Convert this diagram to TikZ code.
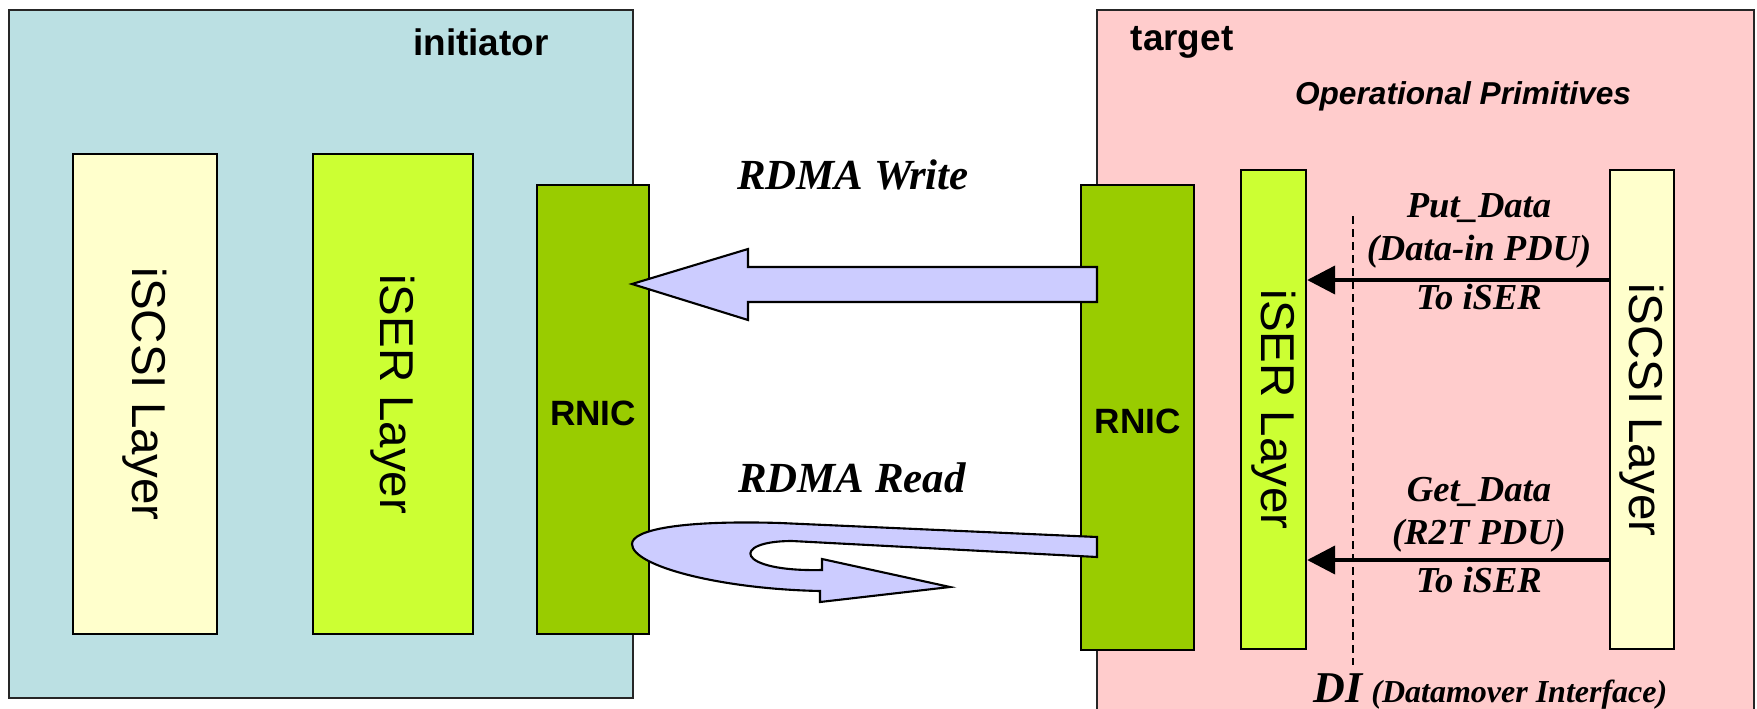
\documentclass[tikz,border=0pt]{standalone}
\usepackage{fontspec}
\setmainfont{Liberation Sans}
\newfontfamily\timesfont{Liberation Serif}
\usetikzlibrary{arrows.meta}
\definecolor{initbg}{RGB}{187,224,227}
\definecolor{targbg}{RGB}{255,204,204}
\definecolor{scsiclr}{RGB}{255,255,204}
\definecolor{iserclr}{RGB}{204,255,51}
\definecolor{rnicclr}{RGB}{153,204,0}
\definecolor{rdmaclr}{RGB}{204,204,255}
\tikzset{>=stealth}

\begin{document}
\begin{tikzpicture}[x=0.01cm, y=-0.01cm,
  side/.style={draw=black!85, line width=0.5pt, anchor=north west, inner sep=0pt},
  layer/.style={draw, line width=0.6pt, anchor=north west, inner sep=0pt},
  layertext/.style={rotate=-90, font=\fontsize{13.5}{16}\selectfont},
  rdma/.style={draw, fill=rdmaclr, line width=0.6pt, line join=miter},
  prim/.style={line width=1.15pt, -{Triangle[length=0.28cm, width=0.28cm]}},
  primtext/.style={font=\timesfont\bfseries\itshape\fontsize{10.4}{12.2}\selectfont, align=center},
  rdmatext/.style={font=\timesfont\bfseries\itshape\fontsize{12.2}{14}\selectfont}]
\clip (0,0) rectangle (1757,709);

% initiator and target
\node[side, fill=initbg, minimum width=6.24cm, minimum height=6.88cm] (init) at (8,9) {};
\node[side, fill=targbg, minimum width=6.57cm, minimum height=7.3cm] (targ) at (1096,9) {};
\node[font=\bfseries\fontsize{10.5}{12}\selectfont] (initlbl) at (481,42) {initiator};
\node[font=\bfseries\fontsize{10.5}{12}\selectfont] (targlbl) at (1182,42) {target};
\node[font=\bfseries\itshape\fontsize{9}{11}\selectfont] (oplbl) at (1463,96) {Operational Primitives};

% layers, initiator side
\node[layer, fill=scsiclr, minimum width=1.44cm, minimum height=4.8cm] (scsiL) at (72,153) {};
\node[layer, fill=iserclr, minimum width=1.6cm, minimum height=4.8cm] (iserL) at (312,153) {};
\node[layer, fill=rnicclr, minimum width=1.12cm, minimum height=4.49cm] (rnicL) at (536,184) {};
\node[layertext] (scsiLtxt) at (scsiL.center) {iSCSI Layer};
\node[layertext] (iserLtxt) at (iserL.center) {iSER Layer};
\node[font=\bfseries\fontsize{10}{12}\selectfont] (rnicLtxt) at ([yshift=-1pt]rnicL.center) {RNIC};

% layers, target side
\node[layer, fill=rnicclr, minimum width=1.13cm, minimum height=4.65cm] (rnicR) at (1080,184) {};
\node[layer, fill=iserclr, minimum width=0.65cm, minimum height=4.79cm] (iserR) at (1240,169) {};
\node[layer, fill=scsiclr, minimum width=0.64cm, minimum height=4.79cm] (scsiR) at (1609,169) {};
\node[font=\bfseries\fontsize{10}{12}\selectfont] (rnicRtxt) at ([yshift=-1pt]rnicR.center) {RNIC};
\node[layertext] (iserRtxt) at (iserR.center) {iSER Layer};
\node[layertext] (scsiRtxt) at (scsiR.center) {iSCSI Layer};

% RDMA Write
\node[rdmatext] (wrlbl) at (853,175) {RDMA Write};
\draw[rdma] (1097,267) -- (748,267) -- (748,249) -- (632,284) -- (748,320)
  -- (748,302) -- (1097,302) -- cycle;

% RDMA Read
\node[rdmatext] (rdlbl) at (852,478) {RDMA Read};
\draw[rdma] (1097,537) -- (780,523) .. controls (680,520) and (632,530) .. (632,544)
  .. controls (632,566) and (720,589) .. (820,591) -- (820,602) -- (950,587)
  -- (822,559) -- (822,570) .. controls (735,572) and (730,541) .. (792,541)
  -- (1097,557) -- cycle;

% DI line
\coordinate (ditop) at (1353,216);
\coordinate (dibot) at (1353,665);
\draw[line width=0.5pt, dash pattern=on 2.3pt off 1.4pt] (ditop) -- (dibot);
\node[anchor=base west, inner sep=0pt, font=\timesfont\bfseries\itshape] (dilbl) at (1313,702)
  {{\fontsize{12.5}{14}\selectfont DI} {\fontsize{9.1}{11}\selectfont (Datamover Interface)}};

% operational primitives
\coordinate (putY) at (0,280);
\coordinate (getY) at (0,560);
\draw[prim] (scsiR.west |- putY) -- (iserR.east |- putY);
\draw[prim] (scsiR.west |- getY) -- (iserR.east |- getY);
\node[primtext] (putlbl) at (1479,231) {Put\_Data\\(Data-in PDU)};
\node[primtext] (putto) at (1479,297) {To iSER};
\node[primtext] (getlbl) at (1479,515) {Get\_Data\\(R2T PDU)};
\node[primtext] (getto) at (1479,580) {To iSER};
\end{tikzpicture}
\end{document}
